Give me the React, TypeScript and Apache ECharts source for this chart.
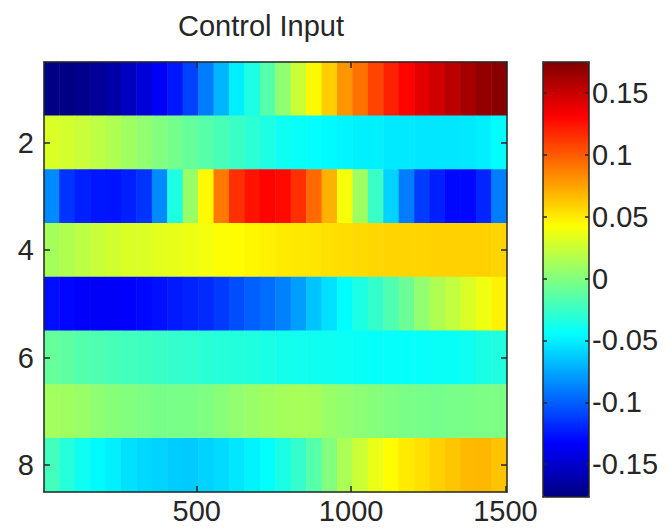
import React, { useEffect, useRef } from "react";
import * as echarts from "echarts";

// column centres (sample index), each column spans 50 units
const xCenters = [30, 80, 130, 180, 230, 280, 330, 380, 430, 480, 530, 580, 630, 680, 730, 780, 830, 880, 930, 980, 1030, 1080, 1130, 1180, 1230, 1280, 1330, 1380, 1430, 1480];
const rowLabels = ["1", "2", "3", "4", "5", "6", "7", "8"];
const xTicks = [500, 1000, 1500];
const yTicks = [2, 4, 6, 8];
const cbTicks = [-0.15, -0.1, -0.05, 0, 0.05, 0.1, 0.15];
const cMin = -0.1765;
const cMax = 0.175;

const row1 = [-0.175, -0.175, -0.172, -0.168, -0.163, -0.155, -0.145, -0.135, -0.125, -0.11, -0.09, -0.07, -0.05, -0.035, -0.015, 0.005, 0.025, 0.045, 0.06, 0.08, 0.092, 0.108, 0.12, 0.13, 0.14, 0.148, 0.155, 0.162, 0.168, 0.172];
const row2 = [0.03, 0.028, 0.024, 0.02, 0.016, 0.01, 0.005, 0.0, -0.005, -0.01, -0.015, -0.02, -0.025, -0.03, -0.035, -0.04, -0.042, -0.044, -0.046, -0.048, -0.05, -0.05, -0.052, -0.052, -0.053, -0.053, -0.053, -0.052, -0.05, -0.045];
const row3 = [-0.085, -0.115, -0.122, -0.125, -0.126, -0.122, -0.115, -0.085, -0.035, 0.008, 0.045, 0.09, 0.115, 0.125, 0.13, 0.128, 0.115, 0.095, 0.07, 0.04, 0.01, -0.025, -0.06, -0.09, -0.112, -0.122, -0.13, -0.13, -0.12, -0.09];
const row4 = [0.012, 0.016, 0.02, 0.024, 0.027, 0.03, 0.031, 0.033, 0.035, 0.037, 0.039, 0.042, 0.044, 0.046, 0.048, 0.05, 0.051, 0.052, 0.054, 0.055, 0.056, 0.057, 0.058, 0.058, 0.058, 0.059, 0.059, 0.059, 0.059, 0.058];
const row5 = [-0.128, -0.131, -0.134, -0.135, -0.135, -0.133, -0.13, -0.127, -0.124, -0.121, -0.118, -0.113, -0.106, -0.1, -0.095, -0.088, -0.078, -0.065, -0.055, -0.045, -0.035, -0.027, -0.018, -0.008, 0.005, 0.015, 0.022, 0.03, 0.038, 0.048];
const row6 = [-0.01, -0.012, -0.016, -0.018, -0.02, -0.022, -0.023, -0.025, -0.027, -0.028, -0.03, -0.032, -0.033, -0.034, -0.036, -0.038, -0.039, -0.04, -0.04, -0.041, -0.042, -0.043, -0.043, -0.043, -0.043, -0.042, -0.042, -0.04, -0.036, -0.034];
const row7 = [0.011, 0.01, 0.008, 0.004, 0.002, 0.0, -0.002, -0.004, -0.004, -0.003, -0.001, 0.002, 0.005, 0.008, 0.01, 0.012, 0.013, 0.012, 0.008, 0.005, 0.003, 0.001, -0.001, -0.003, -0.004, -0.005, -0.004, -0.003, -0.002, -0.002];
const row8 = [-0.022, -0.032, -0.04, -0.046, -0.05, -0.055, -0.058, -0.06, -0.062, -0.063, -0.06, -0.057, -0.053, -0.049, -0.044, -0.036, -0.027, -0.015, 0.0, 0.014, 0.025, 0.036, 0.044, 0.05, 0.054, 0.059, 0.063, 0.067, 0.068, 0.064];

const rows = [row1, row2, row3, row4, row5, row6, row7, row8];

const jet = ["#000080", "#0000ff", "#0080ff", "#00ffff", "#80ff80", "#ffff00", "#ff8000", "#ff0000", "#800000"];

const FONT = "'Liberation Sans', Arial, Helvetica, sans-serif";
const INK = "#262626";

export default function App() {
  const ref = useRef<HTMLDivElement>(null);
  useEffect(() => {
    if (!ref.current) return;
    document.body.style.margin = "0";
    const chart = echarts.init(ref.current, undefined, { renderer: "svg" });
    const data: [number, number, number][] = [];
    rows.forEach((r, i) => r.forEach((v, j) => data.push([j, i, v])));
    const line = { lineStyle: { color: INK, width: 1.5 } };
    const label = { fontSize: 29, color: INK, fontFamily: FONT };
    const fmt = (v: number) => String(v);
    chart.setOption({
      animation: false,
      textStyle: { fontFamily: FONT },
      grid: [
        { left: 44, top: 62, width: 463, height: 430 },
        { left: 543, top: 62, width: 46, height: 435 },
      ],
      xAxis: [
        { gridIndex: 0, type: "category", data: xCenters, show: false },
        {
          gridIndex: 0, type: "value", position: "bottom", min: 5, max: 1505, z: 10,
          axisLine: { show: true, onZero: false, ...line },
          axisTick: { show: true, inside: true, length: 6, customValues: xTicks, ...line },
          axisLabel: { ...label, customValues: xTicks, margin: 4, formatter: fmt },
          splitLine: { show: false },
        },
        {
          gridIndex: 0, type: "value", position: "top", min: 5, max: 1505, z: 10,
          axisLine: { show: true, onZero: false, ...line },
          axisTick: { show: true, inside: true, length: 6, customValues: xTicks, ...line },
          axisLabel: { show: false },
          splitLine: { show: false },
        },
        {
          gridIndex: 1, type: "category", data: ["c"], position: "bottom", z: 10,
          axisLine: { show: true, onZero: false, ...line }, axisTick: { show: false }, axisLabel: { show: false },
        },
        {
          gridIndex: 1, type: "category", data: ["c"], position: "top", z: 10,
          axisLine: { show: true, onZero: false, ...line }, axisTick: { show: false }, axisLabel: { show: false },
        },
      ],
      yAxis: [
        { gridIndex: 0, type: "category", data: rowLabels, inverse: true, show: false },
        {
          gridIndex: 0, type: "value", position: "left", min: 0.5, max: 8.5, inverse: true, z: 10,
          axisLine: { show: true, onZero: false, ...line },
          axisTick: { show: true, inside: true, length: 6, customValues: yTicks, ...line },
          axisLabel: { ...label, customValues: yTicks, margin: 10, formatter: fmt },
          splitLine: { show: false },
        },
        {
          gridIndex: 0, type: "value", position: "right", min: 0.5, max: 8.5, inverse: true, z: 10,
          axisLine: { show: true, onZero: false, ...line },
          axisTick: { show: true, inside: true, length: 6, customValues: yTicks, ...line },
          axisLabel: { show: false },
          splitLine: { show: false },
        },
        {
          gridIndex: 1, type: "value", position: "right", min: cMin, max: cMax, z: 10,
          axisLine: { show: true, onZero: false, ...line },
          axisTick: { show: true, inside: true, length: 4, customValues: cbTicks, ...line },
          axisLabel: { ...label, customValues: cbTicks, margin: 3, formatter: fmt },
          splitLine: { show: false },
        },
        {
          gridIndex: 1, type: "value", position: "left", min: cMin, max: cMax, z: 10,
          axisLine: { show: true, onZero: false, ...line },
          axisTick: { show: true, inside: true, length: 4, customValues: cbTicks, ...line },
          axisLabel: { show: false },
          splitLine: { show: false },
        },
      ],
      visualMap: {
        type: "continuous",
        min: cMin,
        max: cMax,
        seriesIndex: 0,
        calculable: false,
        orient: "vertical",
        left: 543,
        top: 62,
        itemWidth: 46,
        itemHeight: 435,
        padding: 0,
        hoverLink: false,
        inRange: { color: jet },
      },
      graphic: [
        {
          type: "text",
          x: 261,
          y: 26,
          style: {
            text: "Control Input",
            fontSize: 29,
            fontFamily: FONT,
            fill: INK,
            textAlign: "center",
            textVerticalAlign: "middle",
          },
        },
      ],
      series: [
        {
          type: "heatmap",
          xAxisIndex: 0,
          yAxisIndex: 0,
          data,
          itemStyle: { borderWidth: 0 },
          emphasis: { disabled: true },
        },
      ],
    });
    return () => chart.dispose();
  }, []);
  return <div ref={ref} style={{ width: 668, height: 530 }} />;
}
